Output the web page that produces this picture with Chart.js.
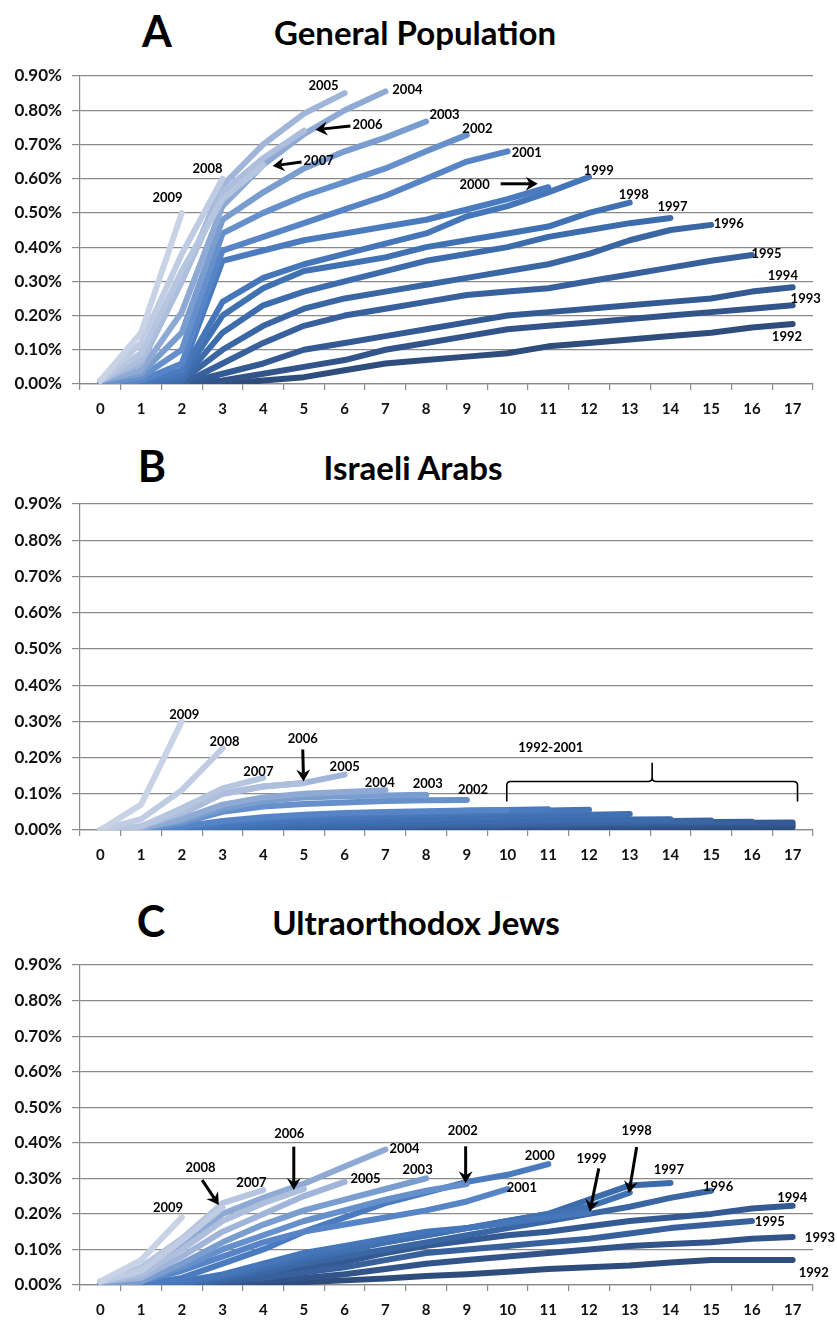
<!DOCTYPE html>
<html>
<head>
<meta charset="utf-8">
<script src="https://cdn.jsdelivr.net/npm/chart.js@4.4.1/dist/chart.umd.min.js"></script>
<style>
  html, body { margin: 0; padding: 0; background: #fff; }
  body { width: 837px; height: 1320px; position: relative; overflow: hidden; font-family: Lato, "Open Sans", sans-serif; }
  canvas { position: absolute; left: 0; }
  .letter, .title { position: absolute; font-weight: 700; color: #000; transform: translate(-50%, -50%); white-space: nowrap; line-height: 1; }
  .letter { font-size: 43px; }
  .title { font-size: 33px; }
</style>
</head>
<body>
<div class="letter" style="left:157px; top:30px;">A</div>
<div class="title" style="left:415px; top:32px;">General Population</div>
<canvas id="chartA" width="837" height="378" style="top:50px;"></canvas>

<div class="letter" style="left:152px; top:465px;">B</div>
<div class="title" style="left:413px; top:467px;">Israeli Arabs</div>
<canvas id="chartB" width="837" height="394" style="top:480px;"></canvas>

<div class="letter" style="left:151px; top:920px;">C</div>
<div class="title" style="left:416px; top:922px;">Ultraorthodox Jews</div>
<canvas id="chartC" width="837" height="380" style="top:940px;"></canvas>

<script>
// x categories (years of follow-up) and y tick values (percent)
const categories = ['0','1','2','3','4','5','6','7','8','9','10','11','12','13','14','15','16','17'];
const years = [1992,1993,1994,1995,1996,1997,1998,1999,2000,2001,2002,2003,2004,2005,2006,2007,2008,2009];
const yTicks = [0, 0.1, 0.2, 0.3, 0.4, 0.5, 0.6, 0.7, 0.8, 0.9];

// ---- A: General Population (cumulative %, by cohort year)
const A_1992 = [0.00, 0.00, 0.00, 0.00, 0.01, 0.02, 0.04, 0.06, 0.07, 0.08, 0.09, 0.11, 0.12, 0.13, 0.14, 0.15, 0.165, 0.175];
const A_1993 = [0.00, 0.00, 0.00, 0.01, 0.03, 0.05, 0.07, 0.10, 0.12, 0.14, 0.16, 0.17, 0.18, 0.19, 0.20, 0.21, 0.22, 0.23];
const A_1994 = [0.00, 0.00, 0.00, 0.03, 0.06, 0.10, 0.12, 0.14, 0.16, 0.18, 0.20, 0.21, 0.22, 0.23, 0.24, 0.25, 0.27, 0.283];
const A_1995 = [0.00, 0.00, 0.00, 0.06, 0.12, 0.17, 0.20, 0.22, 0.24, 0.26, 0.27, 0.28, 0.30, 0.32, 0.34, 0.36, 0.377];
const A_1996 = [0.00, 0.00, 0.01, 0.10, 0.17, 0.22, 0.25, 0.27, 0.29, 0.31, 0.33, 0.35, 0.38, 0.42, 0.45, 0.465];
const A_1997 = [0.00, 0.00, 0.01, 0.15, 0.23, 0.27, 0.30, 0.33, 0.36, 0.38, 0.40, 0.43, 0.45, 0.47, 0.485];
const A_1998 = [0.00, 0.00, 0.02, 0.20, 0.28, 0.33, 0.35, 0.37, 0.40, 0.42, 0.44, 0.46, 0.50, 0.53];
const A_1999 = [0.00, 0.00, 0.03, 0.24, 0.31, 0.35, 0.38, 0.41, 0.44, 0.49, 0.52, 0.56, 0.605];
const A_2000 = [0.00, 0.01, 0.04, 0.36, 0.39, 0.42, 0.44, 0.46, 0.48, 0.51, 0.54, 0.575];
const A_2001 = [0.00, 0.01, 0.06, 0.39, 0.43, 0.47, 0.51, 0.55, 0.60, 0.65, 0.68];
const A_2002 = [0.00, 0.02, 0.10, 0.44, 0.50, 0.55, 0.59, 0.63, 0.68, 0.728];
const A_2003 = [0.01, 0.03, 0.15, 0.48, 0.56, 0.63, 0.68, 0.72, 0.767];
const A_2004 = [0.01, 0.04, 0.21, 0.52, 0.64, 0.73, 0.80, 0.855];
const A_2005 = [0.01, 0.06, 0.30, 0.58, 0.70, 0.79, 0.85];
const A_2006 = [0.01, 0.07, 0.30, 0.56, 0.66, 0.74];
const A_2007 = [0.01, 0.09, 0.33, 0.54, 0.64];
const A_2008 = [0.01, 0.12, 0.38, 0.60];
const A_2009 = [0.01, 0.15, 0.50];

// ---- B: Israeli Arabs
const B_1992 = [0, 0, 0, 0, 0, 0.001, 0.002, 0.003, 0.003, 0.004, 0.004, 0.005, 0.005, 0.006, 0.006, 0.007, 0.007, 0.008];
const B_1993 = [0, 0, 0, 0, 0.001, 0.002, 0.003, 0.004, 0.005, 0.006, 0.007, 0.008, 0.009, 0.010, 0.011, 0.012, 0.013, 0.014];
const B_1994 = [0, 0, 0, 0, 0.002, 0.004, 0.006, 0.007, 0.009, 0.010, 0.012, 0.013, 0.015, 0.016, 0.018, 0.019, 0.020, 0.021];
const B_1995 = [0, 0, 0, 0.002, 0.004, 0.006, 0.008, 0.010, 0.012, 0.013, 0.015, 0.016, 0.018, 0.019, 0.021, 0.022, 0.023];
const B_1996 = [0, 0, 0, 0.003, 0.006, 0.009, 0.011, 0.013, 0.015, 0.017, 0.018, 0.020, 0.021, 0.023, 0.025, 0.026];
const B_1997 = [0, 0, 0, 0.005, 0.010, 0.013, 0.016, 0.019, 0.021, 0.023, 0.025, 0.027, 0.028, 0.029, 0.030];
const B_1998 = [0, 0, 0, 0.008, 0.015, 0.020, 0.024, 0.028, 0.031, 0.034, 0.037, 0.040, 0.042, 0.044];
const B_1999 = [0, 0, 0, 0.012, 0.022, 0.028, 0.033, 0.038, 0.042, 0.046, 0.050, 0.054, 0.056];
const B_2000 = [0, 0, 0.005, 0.020, 0.030, 0.037, 0.042, 0.046, 0.050, 0.053, 0.055, 0.057];
const B_2001 = [0, 0, 0.010, 0.025, 0.035, 0.042, 0.047, 0.050, 0.052, 0.054, 0.055];
const B_2002 = [0, 0, 0.020, 0.050, 0.065, 0.072, 0.076, 0.080, 0.082, 0.083];
const B_2003 = [0, 0.005, 0.025, 0.060, 0.080, 0.090, 0.093, 0.095, 0.097];
const B_2004 = [0, 0.005, 0.030, 0.070, 0.090, 0.100, 0.105, 0.110];
const B_2005 = [0, 0.010, 0.045, 0.100, 0.120, 0.130, 0.153];
const B_2006 = [0, 0.010, 0.050, 0.100, 0.120, 0.130];
const B_2007 = [0, 0.010, 0.060, 0.115, 0.144];
const B_2008 = [0, 0.030, 0.110, 0.225];
const B_2009 = [0, 0.070, 0.300];

// ---- C: Ultraorthodox Jews
const C_1992 = [0.00, 0.00, 0.00, 0.00, 0.003, 0.008, 0.013, 0.018, 0.025, 0.030, 0.037, 0.045, 0.050, 0.055, 0.063, 0.070, 0.070, 0.070];
const C_1993 = [0.00, 0.00, 0.00, 0.005, 0.012, 0.020, 0.030, 0.045, 0.060, 0.070, 0.080, 0.090, 0.100, 0.110, 0.115, 0.120, 0.130, 0.135];
const C_1994 = [0.00, 0.00, 0.00, 0.010, 0.025, 0.045, 0.065, 0.090, 0.110, 0.125, 0.140, 0.150, 0.165, 0.180, 0.190, 0.200, 0.215, 0.223];
const C_1995 = [0.00, 0.00, 0.00, 0.010, 0.020, 0.035, 0.050, 0.070, 0.090, 0.100, 0.110, 0.120, 0.130, 0.145, 0.160, 0.170, 0.180];
const C_1996 = [0.00, 0.00, 0.00, 0.015, 0.035, 0.060, 0.080, 0.100, 0.120, 0.140, 0.160, 0.180, 0.200, 0.220, 0.245, 0.265];
const C_1997 = [0.00, 0.00, 0.005, 0.020, 0.045, 0.070, 0.095, 0.120, 0.140, 0.160, 0.180, 0.200, 0.240, 0.280, 0.287];
const C_1998 = [0.00, 0.00, 0.005, 0.025, 0.050, 0.080, 0.100, 0.120, 0.140, 0.160, 0.180, 0.200, 0.220, 0.260];
const C_1999 = [0.00, 0.00, 0.010, 0.030, 0.060, 0.090, 0.110, 0.130, 0.150, 0.160, 0.175, 0.190, 0.204];
const C_2000 = [0.00, 0.00, 0.020, 0.060, 0.100, 0.150, 0.190, 0.230, 0.260, 0.290, 0.310, 0.340];
const C_2001 = [0.00, 0.01, 0.040, 0.080, 0.120, 0.150, 0.170, 0.190, 0.210, 0.235, 0.270];
const C_2002 = [0.00, 0.01, 0.050, 0.100, 0.140, 0.180, 0.210, 0.240, 0.265, 0.284];
const C_2003 = [0.00, 0.01, 0.060, 0.120, 0.170, 0.210, 0.240, 0.270, 0.300];
const C_2004 = [0.01, 0.03, 0.110, 0.200, 0.245, 0.285, 0.333, 0.381];
const C_2005 = [0.01, 0.02, 0.080, 0.150, 0.200, 0.250, 0.290];
const C_2006 = [0.01, 0.03, 0.100, 0.180, 0.230, 0.270];
const C_2007 = [0.01, 0.05, 0.130, 0.230, 0.267];
const C_2008 = [0.01, 0.04, 0.125, 0.218];
const C_2009 = [0.01, 0.07, 0.190];

const seriesA = [A_1992, A_1993, A_1994, A_1995, A_1996, A_1997, A_1998, A_1999, A_2000, A_2001, A_2002, A_2003, A_2004, A_2005, A_2006, A_2007, A_2008, A_2009];
const seriesB = [B_1992, B_1993, B_1994, B_1995, B_1996, B_1997, B_1998, B_1999, B_2000, B_2001, B_2002, B_2003, B_2004, B_2005, B_2006, B_2007, B_2008, B_2009];
const seriesC = [C_1992, C_1993, C_1994, C_1995, C_1996, C_1997, C_1998, C_1999, C_2000, C_2001, C_2002, C_2003, C_2004, C_2005, C_2006, C_2007, C_2008, C_2009];

// one shade per cohort, dark (oldest) to pale (newest)
const yearColors = ['#2f4d7c', '#32548a', '#345a93', '#37609c', '#3a66a4', '#3d6cac', '#4071b3', '#4576ba', '#4a7bbf',
                    '#5684c6', '#6690cb', '#7a9dd0', '#8eaad4', '#a0b5d9', '#adbfdd', '#b7c6e0', '#c0cce3', '#c9d3e6'];

// year tags, pointer arrows and the bracket, placed in data units [category, percent]
const notesA = {
  labels: [['2005', 5.48, 0.871], ['2004', 7.54, 0.860], ['2006', 6.56, 0.757], ['2007', 5.36, 0.652],
           ['2008', 2.63, 0.629], ['2009', 1.65, 0.544], ['2003', 8.45, 0.787], ['2002', 9.26, 0.746],
           ['2001', 10.47, 0.675], ['1999', 12.24, 0.623], ['2000', 9.19, 0.582], ['1998', 13.10, 0.553],
           ['1997', 14.05, 0.518], ['1996', 15.43, 0.468], ['1995', 16.36, 0.380], ['1994', 16.76, 0.316],
           ['1993', 17.32, 0.249], ['1992', 16.86, 0.137]],
  arrows: [[6.14, 0.754, 5.28, 0.743], [4.94, 0.649, 4.23, 0.637], [9.83, 0.585, 10.74, 0.585]]
};
const notesB = {
  labels: [['2009', 2.06, 0.319], ['2008', 3.05, 0.243], ['2007', 3.88, 0.162], ['2006', 4.97, 0.253],
           ['2005', 6.00, 0.175], ['2004', 6.86, 0.131], ['2003', 8.04, 0.128], ['2002', 9.15, 0.111],
           ['1992-2001', 11.06, 0.228]],
  arrows: [[4.97, 0.222, 4.99, 0.134]],
  brace: { from: 9.98, to: 17.12, foot: 0.079, bar: 0.134, peak: 0.186 }
};
const notesC = {
  labels: [['2009', 1.66, 0.216], ['2008', 2.46, 0.329], ['2007', 3.71, 0.287], ['2006', 4.64, 0.424],
           ['2004', 7.47, 0.382], ['2005', 6.51, 0.298], ['2003', 7.79, 0.323], ['2002', 8.90, 0.433],
           ['2000', 10.79, 0.362], ['2001', 10.35, 0.272], ['1999', 12.06, 0.356], ['1998', 13.17, 0.433],
           ['1997', 13.96, 0.323], ['1996', 15.17, 0.276], ['1994', 16.99, 0.244], ['1995', 16.44, 0.178],
           ['1993', 17.67, 0.134], ['1992', 17.52, 0.033]],
  arrows: [[2.50, 0.295, 2.91, 0.225], [4.75, 0.389, 4.75, 0.267], [8.97, 0.390, 8.97, 0.286],
           [12.24, 0.328, 12.02, 0.206], [13.17, 0.388, 12.98, 0.258]]
};

const AXIS_GRAY = '#8a8a8a';
const FONT = 'Lato, "Open Sans", sans-serif';

function drawArrow(ctx, x1, y1, x2, y2) {
  const ang = Math.atan2(y2 - y1, x2 - x1);
  const len = 12, half = 7, notch = 4;
  const bx = x2 - Math.cos(ang) * len, by = y2 - Math.sin(ang) * len;
  ctx.beginPath();
  ctx.moveTo(x1, y1);
  ctx.lineTo(x2 - Math.cos(ang) * (len - notch), y2 - Math.sin(ang) * (len - notch));
  ctx.lineWidth = 3;
  ctx.stroke();
  ctx.beginPath();
  ctx.moveTo(x2, y2);
  ctx.lineTo(bx - Math.sin(ang) * half, by + Math.cos(ang) * half);
  ctx.lineTo(x2 - Math.cos(ang) * (len - notch), y2 - Math.sin(ang) * (len - notch));
  ctx.lineTo(bx + Math.sin(ang) * half, by - Math.cos(ang) * half);
  ctx.closePath();
  ctx.fill();
}

const notesPlugin = {
  id: 'cohortNotes',
  afterDatasetsDraw(chart, args, opts) {
    const notes = opts.notes;
    if (!notes) return;
    const { ctx, scales: { x, y } } = chart;
    const px = c => x.getPixelForValue(c);
    const py = v => y.getPixelForValue(v);
    ctx.save();
    ctx.fillStyle = '#000';
    ctx.strokeStyle = '#000';
    ctx.font = 'bold 13px ' + FONT;
    ctx.textAlign = 'center';
    ctx.textBaseline = 'middle';
    notes.labels.forEach(([t, c, v]) => ctx.fillText(t, px(c), py(v)));
    (notes.arrows || []).forEach(([c1, v1, c2, v2]) => drawArrow(ctx, px(c1), py(v1), px(c2), py(v2)));
    if (notes.brace) {
      const b = notes.brace;
      const xl = px(b.from), xr = px(b.to), xm = (xl + xr) / 2;
      const yf = py(b.foot), yb = py(b.bar), yp = py(b.peak);
      ctx.lineWidth = 1.6;
      ctx.beginPath();
      ctx.moveTo(xl, yf);
      ctx.lineTo(xl, yb + 4);
      ctx.quadraticCurveTo(xl, yb, xl + 4, yb);
      ctx.lineTo(xm - 4, yb);
      ctx.quadraticCurveTo(xm, yb, xm, yb - 4);
      ctx.lineTo(xm, yp);
      ctx.moveTo(xm, yb - 4);
      ctx.quadraticCurveTo(xm, yb, xm + 4, yb);
      ctx.lineTo(xr - 4, yb);
      ctx.quadraticCurveTo(xr, yb, xr, yb + 4);
      ctx.lineTo(xr, yf);
      ctx.stroke();
    }
    ctx.restore();
  }
};

function buildChart(id, series, notes, padTop, xAxisHeight) {
  const datasets = years.map((yr, i) => ({
    label: String(yr),
    data: series[i],
    borderColor: yearColors[i],
    backgroundColor: yearColors[i],
    borderWidth: 6,
    pointRadius: 0,
    pointHoverRadius: 0,
    tension: 0,
    fill: false,
    borderCapStyle: 'round',
    borderJoinStyle: 'round',
    order: years.length - i
  }));
  return new Chart(document.getElementById(id), {
    type: 'line',
    data: { labels: categories, datasets },
    plugins: [notesPlugin],
    options: {
      responsive: false,
      animation: false,
      devicePixelRatio: 1,
      layout: { padding: { top: padTop, left: 8, right: 24, bottom: 0 } },
      plugins: {
        legend: { display: false },
        tooltip: { enabled: false },
        cohortNotes: { notes }
      },
      scales: {
        x: {
          type: 'category',
          offset: true,
          grid: { offset: true, drawOnChartArea: false, tickLength: 6, color: AXIS_GRAY, lineWidth: 1.2 },
          border: { color: AXIS_GRAY, width: 1.2 },
          ticks: { font: { family: FONT, weight: 'bold', size: 15 }, color: '#111', padding: 10, maxRotation: 0, autoSkip: false },
          afterFit: s => { s.height = xAxisHeight; }
        },
        y: {
          min: 0,
          max: 0.9,
          afterBuildTicks: s => { s.ticks = yTicks.map(v => ({ value: v })); },
          ticks: { font: { family: FONT, weight: 'bold', size: 17 }, color: '#111', padding: 10,
                   callback: v => Number(v).toFixed(2) + '%' },
          grid: { color: AXIS_GRAY, lineWidth: 1.2, tickLength: 8 },
          border: { color: AXIS_GRAY, width: 1.2 },
          afterFit: s => { s.width = 72; }
        }
      }
    }
  });
}

buildChart('chartA', seriesA, notesA, 26, 44);
buildChart('chartB', seriesB, notesB, 24, 44);
buildChart('chartC', seriesC, notesC, 25, 35);
</script>
</body>
</html>
